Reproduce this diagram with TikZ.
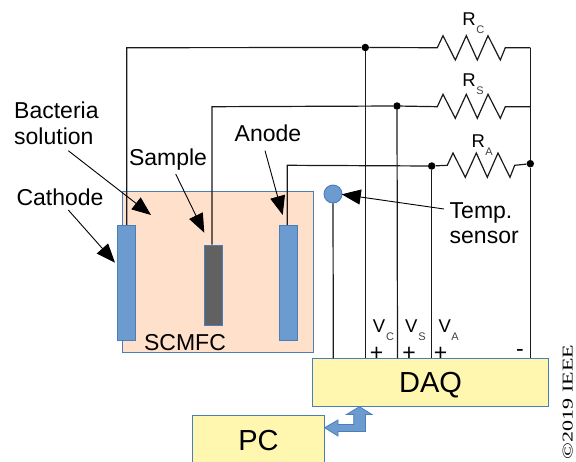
\documentclass[tikz,border=0pt]{standalone}
\usepackage{fontspec}
\setmainfont{Liberation Sans}
\newfontfamily\ieeefont{Liberation Serif}
\usetikzlibrary{arrows.meta}
\definecolor{boxblue}{HTML}{4A7EBB}
\definecolor{elecblue}{HTML}{6C9BD0}
\definecolor{peach}{HTML}{FFE0CA}
\definecolor{paleyellow}{HTML}{FFF6B0}
\definecolor{wirecol}{HTML}{1A1A1A}
\definecolor{sampgray}{HTML}{616161}
\newcommand{\fsz}[1]{\fontsize{#1}{#1}\selectfont}
\tikzset{
  wire/.style={draw=wirecol,line width=1.2pt},
  dotj/.style={circle,fill=black,inner sep=0pt,minimum size=7.5pt},
  electrode/.style={draw=boxblue,fill=elecblue,line width=0.9pt,inner sep=0pt},
  yellowbox/.style={draw=boxblue,fill=paleyellow,line width=1pt,inner sep=0pt},
  callout/.style={draw=black,line width=0.9pt,-{Triangle[length=19pt,width=15pt]},shorten <=0pt},
  lbl/.style={inner sep=0pt,anchor=base,text=black},
  rlbl/.style={lbl,font=\fsz{18.5}},
  sublbl/.style={lbl,font=\fsz{11},text=black!75},
  clbl/.style={lbl,font=\fsz{23}},
}
\begin{document}
\begin{tikzpicture}[x=1pt,y=-1pt]
\useasboundingbox (0,0) rectangle (576,461);
% cell
\node[draw=boxblue,fill=peach,line width=1pt,inner sep=0pt,minimum width=191.4pt,minimum height=160.6pt] (cell) at (218,272) {};
\node[electrode,minimum width=18.4pt,minimum height=115.4pt] (cath) at (126.5,283) {};
\node[electrode,fill=sampgray,minimum width=18.4pt,minimum height=80pt] (samp) at (213.5,285) {};
\node[electrode,minimum width=18.4pt,minimum height=115.4pt] (anod) at (288.5,283) {};
\node[draw=boxblue,fill=elecblue,circle,inner sep=0pt,minimum size=18pt,line width=0.9pt] (sens) at (333,194) {};
% plus and minus marks sit just above the DAQ box
\node[clbl] (p1) at (376.7,360) {+};
\node[clbl] (p2) at (409,360) {+};
\node[clbl] (p3) at (440.7,360) {+};
\node[clbl] (mn) at (520,356) {-};
\node[yellowbox,minimum width=236.3pt,minimum height=48pt] (daq) at (430.2,382.3) {};
\begin{scope}
\clip (0,0) rectangle (576,461);
\node[yellowbox,minimum width=131.6pt,minimum height=70pt] (pc) at (258.5,450.3) {};
\end{scope}
% junctions
\coordinate (tr) at (530.3,47.7);
\node[dotj] (jc) at (365.3,47.5) {};
\node[dotj] (js) at (397,106) {};
\node[dotj] (ja) at (431.7,166) {};
\node[dotj] (jr) at (530.3,163.7) {};
\coordinate (dc) at (365.3,358.3);
\coordinate (ds) at (397.5,358.3);
\coordinate (da) at (431.7,358.3);
\coordinate (dr) at (530.3,358.3);
\coordinate (dt) at (333.3,358.3);
% wires with resistors
\draw[wire,line join=miter] ([xshift=0.2pt]cath.north) -- (126.7,47.7) -- (jc) -- (437.3,47.7)
  -- (443,35.7) -- (455.3,60) -- (466.3,35.7) -- (477.3,60) -- (488,35.7) -- (500.3,60) -- (505.3,47.7) -- (tr);
\draw[wire] ([xshift=-1.5pt]samp.north) -- (212,106.7) -- (js) -- (437.3,106.7)
  -- (443,94.3) -- (455.3,118.3) -- (466.3,94.3) -- (477.3,118.3) -- (488,94.3) -- (500.3,118.3) -- (505.3,106.7) -- (530.3,106.7);
\draw[wire] ([xshift=-1.2pt]anod.north) -- (287.3,165.3) -- (ja) -- (447.3,165.3)
  -- (453,153) -- (465.3,177.3) -- (476.3,153) -- (487.3,177.3) -- (498,153) -- (510,177.3) -- (514.7,165.3) -- (jr);
\draw[wire] (tr) -- (jr) -- (dr);
\draw[wire] (jc) -- (dc);
\draw[wire] (js) -- (ds);
\draw[wire] (ja) -- (da);
\draw[wire] (sens) -- (dt);
% double arrow
\path[draw=boxblue,fill=elecblue,line width=0.8pt,line join=miter]
 (359.5,406.7) -- (372,414.5) -- (365.5,414.5) -- (365.5,431.5) -- (338,431.5) -- (338,436) -- (324.7,427.7) -- (338,420) -- (338,424.5) -- (353.7,424.5) -- (353.7,414.5) -- (346.5,414.5) -- cycle;
% box texts
\node[lbl,font=\fsz{29}] (tdaq) at (430.5,392) {DAQ};
\node[lbl,font=\fsz{29}] (tpc) at (258.5,450) {PC};
\node[clbl] (tcell) at (185,350) {SCMFC};
% callouts
\node[clbl] (tcat) at (60,205) {Cathode};
\node[clbl,anchor=base west] (tbac) at (14,118) {Bacteria};
\node[clbl,anchor=base west] (tsol) at (14,144) {solution};
\node[clbl] (tsam) at (168,165) {Sample};
\node[clbl] (tano) at (268,141) {Anode};
\node[clbl,anchor=base west] (ttem) at (449.5,218) {Temp.};
\node[clbl,anchor=base west] (tsen) at (449.5,243) {sensor};
\coordinate (a1) at (68.3,210); \coordinate (a1t) at (115,262.7);
\coordinate (a2) at (68.3,150.7); \coordinate (a2t) at (151,215);
\coordinate (a3) at (175.7,174); \coordinate (a3t) at (204.3,232.7);
\coordinate (a4) at (265,150.7); \coordinate (a4t) at (282.7,215);
\coordinate (a5) at (444,209); \coordinate (a5t) at (341.7,194.3);
\draw[callout] (a1) -- (a1t);
\draw[callout] (a2) -- (a2t);
\draw[callout] (a3) -- (a3t);
\draw[callout] (a4) -- (a4t);
\draw[callout] (a5) -- (a5t);
% resistor labels
\node[rlbl] (rc) at (469,25) {R};
\node[sublbl] (rcs) at (480.3,33.3) {C};
\node[rlbl] (rs) at (469,86) {R};
\node[sublbl] (rss) at (480,94.3) {S};
\node[rlbl] (ra) at (478.3,147.3) {R};
\node[sublbl] (ras) at (489,155.7) {A};
% voltage labels
\node[rlbl] (vc) at (379,332.7) {V};
\node[sublbl] (vcs) at (390,340.7) {C};
\node[rlbl] (vs) at (411.3,332.7) {V};
\node[sublbl] (vss) at (422,340.7) {S};
\node[rlbl] (va) at (444.7,332.7) {V};
\node[sublbl] (vas) at (455,340.7) {A};
\node[inner sep=0pt,rotate=90,anchor=base,text=black] (cr) at (572.6,402) {\scalebox{1.47}[1]{\ieeefont\fsz{15}©2019 IEEE}};
\end{tikzpicture}
\end{document}
